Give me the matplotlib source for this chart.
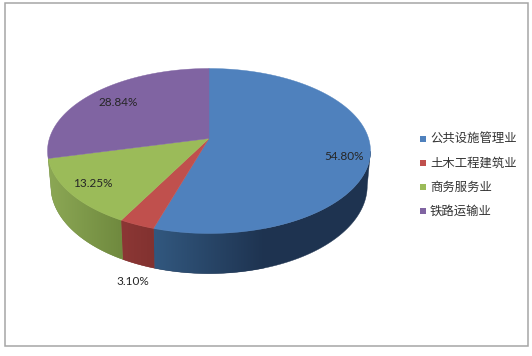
import numpy as np
import matplotlib
matplotlib.use("Agg")
import matplotlib.pyplot as plt
from matplotlib.colors import LinearSegmentedColormap
from matplotlib.patches import Polygon, Rectangle

categories = ["公共设施管理业", "土木工程建筑业", "商务服务业", "铁路运输业"]
shares = [54.80, 3.10, 13.25, 28.84]
top_colors = ["#4F81BD", "#C0504D", "#9BBB59", "#8064A2"]
side_light = ["#32587F", "#8C3735", "#8CA855", None]
side_dark = ["#1E3350", "#823230", "#708A3F", None]
side_span = [110, 33, 73, 1]
label_pos = [(344, 156.5), (133, 281.5), (93, 183.5), (118.5, 102.5)]
legend_y = [138.7, 162.7, 187, 211.3]

# projected-disc geometry, in pixels
CX, CY, AX, BY, K, DEPTH, SHRINK = 209.0, 138.5, 159.6, 80.6, 0.1515, 34.0, 0.98


def top_xy(theta):
    """theta measured clockwise from 12 o'clock"""
    u, v = np.sin(theta), np.cos(theta)
    d = 1 + K * v
    return CX + AX * u / d, CY - BY * v / d


def bottom_xy(theta):
    v = np.cos(theta)
    x, y = top_xy(theta)
    return CX + (x - CX) * SHRINK, y + DEPTH / (1 + K * v)


fig = plt.figure(figsize=(5.32, 3.56), dpi=100, facecolor="white")
ax = fig.add_axes([0, 0, 1, 1])
ax.set_xlim(0, 532)
ax.set_ylim(356, 0)
ax.axis("off")

ax.add_patch(Rectangle((5, 2.5), 523, 343.5, fc="white", ec="#A6A6A6", lw=1.1))

edges = np.concatenate([[0], np.cumsum(shares)]) / sum(shares) * 2 * np.pi

# side wall (visible front part only), shaded left to right
for i in range(len(shares)):
    if side_light[i] is None:
        continue
    th = np.linspace(edges[i], edges[i + 1], 400)
    th = th[np.cos(th) <= -K]
    xt, yt = top_xy(th)
    xb, yb = bottom_xy(th)
    pts = np.column_stack([np.r_[xt, xb[::-1]], np.r_[yt, yb[::-1]]])
    poly = Polygon(pts, closed=True, fc=side_dark[i], ec=side_dark[i], lw=0.3, zorder=2)
    ax.add_patch(poly)
    x0 = min(xt.min(), xb.min())
    cmap = LinearSegmentedColormap.from_list("s", [side_light[i], side_dark[i]])
    x1 = x0 + side_span[i]
    grad = np.linspace(0, 1, 256)[None, :]
    im = ax.imshow(grad, extent=(x0, x1, 300, 100), cmap=cmap, aspect="auto", zorder=2.1,
                   interpolation="bilinear")
    clip = Polygon(pts, closed=True, transform=ax.transData)
    im.set_clip_path(clip)
ax.set_xlim(0, 532)
ax.set_ylim(356, 0)

# top faces
for i in range(len(shares)):
    th = np.linspace(edges[i], edges[i + 1], 300)
    xs, ys = top_xy(th)
    pts = np.column_stack([np.r_[CX, xs], np.r_[CY, ys]])
    ax.add_patch(Polygon(pts, closed=True, fc=top_colors[i], ec=top_colors[i], lw=0.3, zorder=3))

# data labels
for v, (lx, ly) in zip(shares, label_pos):
    ax.text(lx, ly, f"{v:.2f}%", ha="center", va="center", fontsize=8.5,
            family="Lato", color="#262626", zorder=4)

# legend
for name, col, ly in zip(categories, top_colors, legend_y):
    ax.add_patch(Rectangle((420.3, ly - 3), 6, 6, fc=col, ec="none", zorder=4))
    ax.text(430, ly, name, ha="left", va="center", fontsize=8.9,
            family="Noto Sans CJK SC", color="#333333", zorder=4)

fig.savefig("out.png", dpi=100, facecolor="white")
